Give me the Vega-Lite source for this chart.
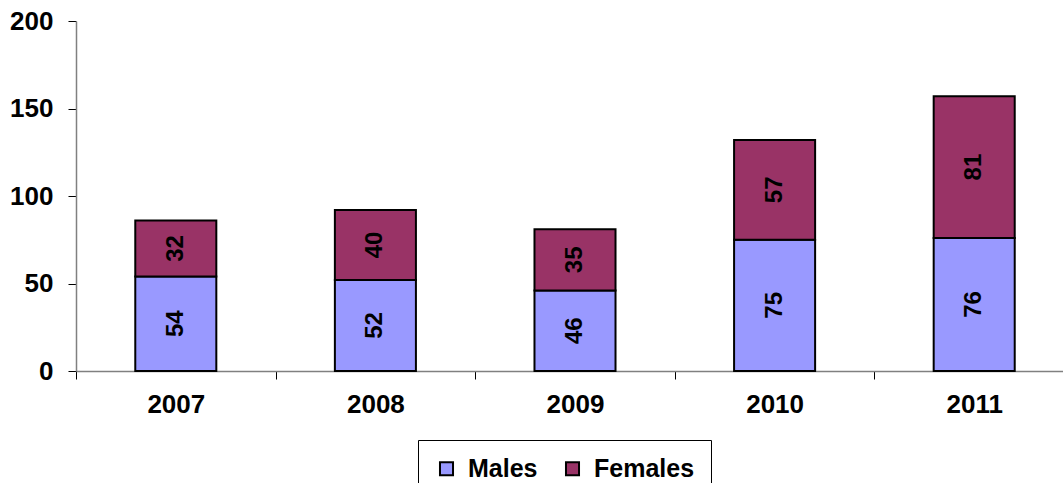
{
  "$schema": "https://vega.github.io/schema/vega-lite/v6.json",
  "width": 998,
  "height": 350,
  "autosize": "none",
  "padding": {"left": 76, "top": 21, "right": 0, "bottom": 112},
  "config": {
    "font": "Liberation Sans",
    "view": {"stroke": null}
  },
  "data": {
    "values": [
      {"year": "2007", "sex": "Males", "idx": 0, "value": 54},
      {"year": "2007", "sex": "Females", "idx": 1, "value": 32},
      {"year": "2008", "sex": "Males", "idx": 0, "value": 52},
      {"year": "2008", "sex": "Females", "idx": 1, "value": 40},
      {"year": "2009", "sex": "Males", "idx": 0, "value": 46},
      {"year": "2009", "sex": "Females", "idx": 1, "value": 35},
      {"year": "2010", "sex": "Males", "idx": 0, "value": 75},
      {"year": "2010", "sex": "Females", "idx": 1, "value": 57},
      {"year": "2011", "sex": "Males", "idx": 0, "value": 76},
      {"year": "2011", "sex": "Females", "idx": 1, "value": 81}
    ]
  },
  "encoding": {
    "x": {
      "field": "year",
      "type": "ordinal",
      "scale": {"paddingInner": 0, "paddingOuter": 0},
      "axis": {
        "title": null,
        "labelAngle": 0,
        "labelFont": "Liberation Sans",
        "labelFontSize": 26,
        "labelFontWeight": "bold",
        "labelColor": "black",
        "labelPadding": 12,
        "domainColor": "#808080",
        "domainWidth": 1.5,
        "tickColor": "black",
        "tickSize": 8,
        "tickBand": "extent",
        "ticks": true
      }
    }
  },
  "layer": [
    {
      "mark": {"type": "bar", "stroke": "black", "strokeWidth": 2, "width": {"band": 0.406}},
      "encoding": {
        "y": {
          "field": "value",
          "type": "quantitative",
          "stack": "zero",
          "scale": {"domain": [0, 200], "nice": false},
          "axis": {
            "title": null,
            "values": [0, 50, 100, 150, 200],
            "grid": false,
            "labelFont": "Liberation Sans",
            "labelFontSize": 26,
            "labelFontWeight": "bold",
            "labelColor": "black",
            "labelPadding": 15,
            "domainColor": "#808080",
            "domainWidth": 1.5,
            "tickColor": "black",
            "tickSize": 8
          }
        },
        "order": {"field": "idx", "type": "quantitative"},
        "color": {
          "field": "sex",
          "type": "nominal",
          "scale": {"domain": ["Males", "Females"], "range": ["#9999FF", "#993366"]},
          "legend": {
            "title": null,
            "orient": "none",
            "direction": "horizontal",
            "legendX": 342,
            "legendY": 419,
            "symbolType": "square",
            "symbolSize": 170,
            "symbolStrokeColor": "black",
            "symbolStrokeWidth": 2,
            "symbolOpacity": 1,
            "labelFont": "Liberation Sans",
            "labelFontSize": 25,
            "labelFontWeight": "bold",
            "labelColor": "black",
            "labelOffset": 9,
            "columnPadding": 22,
            "padding": 16,
            "strokeColor": "black",
            "fillColor": "white"
          }
        }
      }
    },
    {
      "transform": [
        {"stack": "value", "groupby": ["year"], "sort": [{"field": "idx", "order": "ascending"}], "as": ["y0", "y1"]},
        {"fold": ["y0", "y1"], "as": ["edge", "pos"]},
        {"aggregate": [{"op": "mean", "field": "pos", "as": "mid"}, {"op": "max", "field": "value", "as": "label"}], "groupby": ["year", "sex"]}
      ],
      "mark": {
        "type": "text",
        "angle": 270,
        "font": "Liberation Sans",
        "fontSize": 24,
        "fontWeight": "bold",
        "color": "black",
        "align": "center",
        "baseline": "middle"
      },
      "encoding": {
        "y": {"field": "mid", "type": "quantitative"},
        "text": {"field": "label", "type": "quantitative"}
      }
    }
  ]
}
